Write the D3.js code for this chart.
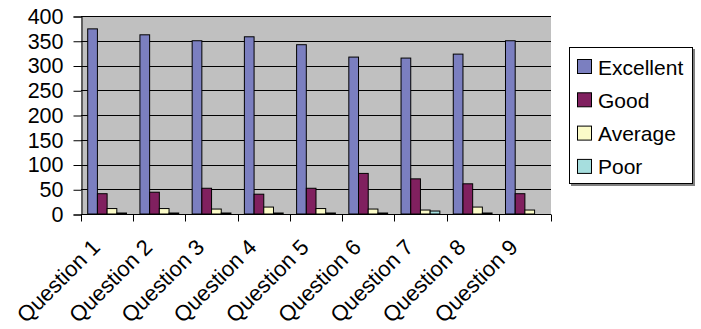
<!DOCTYPE html>
<html>
<head>
<meta charset="utf-8">
<script src="https://cdn.jsdelivr.net/npm/d3@7"></script>
<style>
  html, body { margin: 0; padding: 0; background: #fff; }
  svg { display: block; }
  text { font-family: "Liberation Sans", Arial, sans-serif; fill: #000; }
</style>
</head>
<body>
<svg id="chart" width="701" height="329"></svg>
<script>
// Survey responses per question
const categories = ["Question 1", "Question 2", "Question 3", "Question 4", "Question 5",
                    "Question 6", "Question 7", "Question 8", "Question 9"];
const seriesNames = ["Excellent", "Good", "Average", "Poor"];
const excellent = [374, 362, 350, 358, 342, 317, 315, 323, 350];
const good      = [41, 44, 52, 40, 52, 82, 71, 61, 41];
const average   = [11, 11, 10, 14, 11, 10, 8, 14, 8];
const poor      = [2, 2, 2, 2, 2, 2, 6, 2, 0];
const yTicks    = [0, 50, 100, 150, 200, 250, 300, 350, 400];

const seriesValues = [excellent, good, average, poor];
const colors = ["#7B7FC0", "#80205F", "#FBFBC8", "#A6DEDE"];

const svg = d3.select("#chart");
const plot = { left: 81, right: 551, top: 16, bottom: 214 };

const x0 = d3.scaleBand().domain(categories).range([plot.left, plot.right]).padding(0);
const bw = x0.bandwidth();
const gap = bw * 0.257;
const x1 = d3.scaleBand().domain(seriesNames).range([gap / 2, bw - gap / 2]).padding(0);
const y = d3.scaleLinear().domain([0, 400]).range([plot.bottom, plot.top]);

// plot background
svg.append("rect")
  .attr("x", plot.left).attr("y", plot.top)
  .attr("width", plot.right - plot.left).attr("height", plot.bottom - plot.top)
  .attr("fill", "#C0C0C0");

// horizontal gridlines
svg.append("g")
  .selectAll("line")
  .data(yTicks.filter(d => d > 0))
  .join("line")
  .attr("x1", plot.left).attr("x2", plot.right)
  .attr("y1", d => Math.round(y(d)) + 0.5).attr("y2", d => Math.round(y(d)) + 0.5)
  .attr("stroke", "#000").attr("stroke-width", 1);

// bars
const groups = svg.append("g")
  .selectAll("g")
  .data(categories)
  .join("g")
  .attr("transform", d => `translate(${x0(d)},0)`);

groups.selectAll("rect")
  .data((c, i) => seriesNames.map((s, j) => ({ s, j, v: seriesValues[j][i] })))
  .join("rect")
  .filter(d => d.v > 0)
  .attr("x", d => x1(d.s))
  .attr("y", d => y(d.v))
  .attr("width", x1.bandwidth())
  .attr("height", d => y(0) - y(d.v))
  .attr("fill", d => colors[d.j])
  .attr("stroke", "#000")
  .attr("stroke-width", 1);

// y axis
const yAxis = d3.axisLeft(y).tickValues(yTicks).tickSize(8).tickPadding(10).tickFormat(d3.format("d"));
const gy = svg.append("g").attr("transform", `translate(${plot.left + 0.5},0.5)`).call(yAxis);
gy.select(".domain").attr("stroke", "#000");
gy.selectAll(".tick line").attr("stroke", "#000");
gy.selectAll(".tick text")
  .style("font-family", '"Liberation Sans", Arial, sans-serif')
  .style("font-size", "21.5px")
  .attr("fill", "#000");

// x axis with ticks at category boundaries
const gx = svg.append("g").attr("transform", `translate(0,${plot.bottom + 0.5})`);
gx.append("line")
  .attr("x1", plot.left).attr("x2", plot.right)
  .attr("stroke", "#000");
const bounds = categories.map(c => x0(c)).concat([plot.right]);
gx.selectAll("line.tk")
  .data(bounds)
  .join("line")
  .attr("class", "tk")
  .attr("x1", d => Math.round(d) + 0.5).attr("x2", d => Math.round(d) + 0.5)
  .attr("y1", 0).attr("y2", 7)
  .attr("stroke", "#000");

gx.selectAll("text")
  .data(categories)
  .join("text")
  .attr("text-anchor", "end")
  .attr("transform", d => `translate(${x0(d) + bw / 2 - 17},${23}) rotate(-45)`)
  .attr("dy", "0.72em")
  .style("font-size", "22px")
  .text(d => d);

// legend
const lg = svg.append("g").attr("transform", "translate(569,47)");
lg.append("rect").attr("x", 2).attr("y", 2).attr("width", 124).attr("height", 137).attr("fill", "#808080");
lg.append("rect").attr("x", 0.5).attr("y", 0.5).attr("width", 123).attr("height", 136)
  .attr("fill", "#fff").attr("stroke", "#000");
const items = lg.selectAll("g.item")
  .data(seriesNames)
  .join("g")
  .attr("class", "item")
  .attr("transform", (d, i) => `translate(8,${20 + i * 33.3})`);
items.append("rect")
  .attr("x", 0.5).attr("y", -7.5).attr("width", 14).attr("height", 14)
  .attr("fill", (d, i) => colors[i]).attr("stroke", "#000");
items.append("text")
  .attr("x", 21).attr("dy", "0.36em")
  .style("font-size", "21px")
  .text(d => d);
</script>
</body>
</html>
